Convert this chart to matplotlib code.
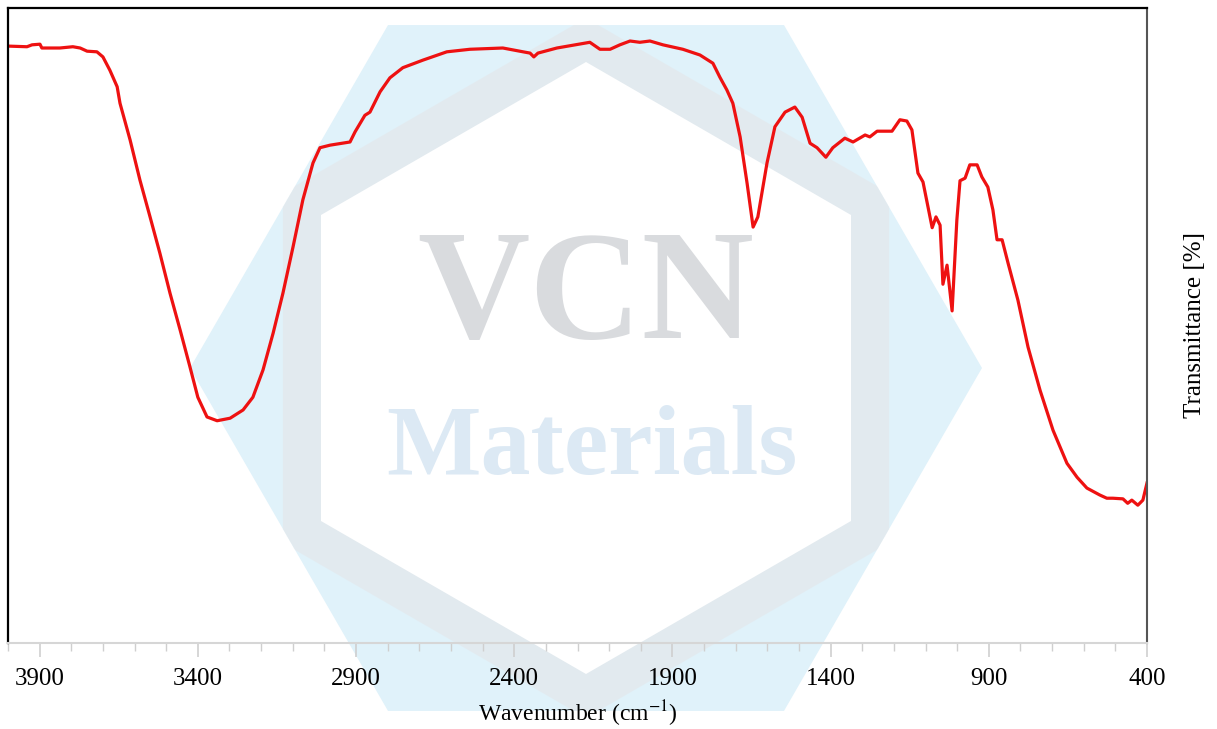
import numpy as np
import matplotlib
matplotlib.use('Agg')
import matplotlib.pyplot as plt
from matplotlib.patches import Polygon
from matplotlib.ticker import MultipleLocator, FixedLocator

plt.rcParams['font.family'] = ['Liberation Serif', 'DejaVu Serif']
plt.rcParams['mathtext.fontset'] = 'stix'

# FTIR spectrum
wavenumber = [4000, 3940, 3924, 3899, 3893, 3836, 3795, 3772, 3750, 3719,
              3700, 3678, 3655, 3646, 3614, 3583, 3551, 3520, 3488, 3456,
              3425, 3400, 3371, 3339, 3298, 3257, 3226, 3194, 3162, 3131,
              3099, 3068, 3036, 3014, 2982, 2919, 2903, 2872, 2856, 2824,
              2793, 2752, 2688, 2613, 2540, 2436, 2372, 2350, 2338, 2325,
              2265, 2161, 2129, 2097, 2066, 2034, 2003, 1971, 1930, 1867,
              1813, 1772, 1750, 1728, 1709, 1686, 1664, 1645, 1630, 1601,
              1576, 1544, 1513, 1490, 1465, 1443, 1415, 1393, 1355, 1329,
              1291, 1276, 1253, 1206, 1181, 1159, 1143, 1124, 1108, 1079,
              1067, 1054, 1045, 1032, 1016, 1001, 991, 975, 960, 937,
              922, 903, 887, 874, 858, 839, 808, 776, 738, 697,
              653, 621, 590, 549, 527, 508, 476, 461, 448, 429,
              413, 400]
transmittance = [94.0, 93.9, 94.2, 94.3, 93.7, 93.7, 93.9, 93.7, 93.2, 93.1,
                 92.3, 90.2, 87.6, 85.0, 79.2, 72.9, 67.1, 61.4, 55.1, 49.3,
                 43.5, 38.7, 35.6, 35.0, 35.4, 36.7, 38.7, 43.0, 48.8, 55.1,
                 62.4, 69.8, 75.6, 78.0, 78.4, 78.9, 80.5, 83.1, 83.6, 86.8,
                 89.0, 90.6, 91.8, 93.1, 93.5, 93.7, 93.1, 92.9, 92.3, 92.9,
                 93.7, 94.6, 93.5, 93.5, 94.2, 94.8, 94.6, 94.8, 94.2, 93.5,
                 92.6, 91.3, 89.1, 87.1, 85.0, 79.7, 72.4, 65.5, 67.1, 75.6,
                 81.3, 83.6, 84.4, 82.8, 78.7, 78.0, 76.5, 78.0, 79.5, 78.9,
                 80.0, 79.7, 80.6, 80.6, 82.4, 82.2, 80.8, 74.0, 72.6, 65.4,
                 67.1, 65.8, 56.5, 59.5, 52.3, 66.6, 72.8, 73.2, 75.3, 75.3,
                 73.4, 71.8, 68.2, 63.5, 63.5, 59.8, 54.0, 46.6, 39.8, 33.5,
                 28.3, 26.1, 24.4, 23.3, 22.8, 22.8, 22.7, 22.0, 22.5, 21.7,
                 22.5, 25.2]

major_ticks = [3900, 3400, 2900, 2400, 1900, 1400, 900, 400]

W, H = 1217, 729
fig = plt.figure(figsize=(W / 100, H / 100), dpi=100)

# watermark drawn in pixel coordinates on a background axes
bg = fig.add_axes([0, 0, 1, 1], zorder=0)
bg.set_xlim(0, W)
bg.set_ylim(H, 0)
bg.axis('off')

cx, cy = 586, 368
ang = np.deg2rad(np.arange(0, 360, 60))
outer = np.c_[cx + 396 * np.cos(ang), cy + 396 * np.sin(ang)]
mid = np.c_[cx + 350 * np.cos(ang + np.pi / 2), cy + 350 * np.sin(ang + np.pi / 2)]
inner = np.c_[cx + 306 * np.cos(ang + np.pi / 6), cy + 306 * np.sin(ang + np.pi / 6)]
hex_out = Polygon(outer, closed=True, fc='#e0f2fa', ec='none')
bg.add_patch(hex_out)
hex_mid = Polygon(mid, closed=True, fc='#e4e6e9', ec='none', alpha=0.6)
bg.add_patch(hex_mid)
hex_mid.set_clip_path(hex_out)
bg.add_patch(Polygon(inner, closed=True, fc='white', ec='none'))
bg.text(586, 300, 'VCN', fontsize=112, fontweight='bold', color='#d9dbde',
        ha='center', va='center', family='Liberation Serif')
bg.text(592, 450, 'Materials', fontsize=72, fontweight='bold', color='#dce9f4',
        ha='center', va='center', family='Liberation Serif')

ax = fig.add_axes([8 / W, 1 - 643 / H, 1139 / W, 635 / H], zorder=1)
ax.set_facecolor('none')
ax.plot(wavenumber, transmittance, color='#ee1111', linewidth=2.3,
        solid_joinstyle='round')

ax.set_xlim(4000, 400)
ax.set_ylim(0, 100)
ax.xaxis.set_major_locator(FixedLocator(major_ticks))
ax.xaxis.set_minor_locator(MultipleLocator(100))
ax.set_yticks([])
ax.tick_params(axis='x', which='major', length=10, width=1.2, color='#cfcfcf',
               labelsize=18, pad=8)
ax.tick_params(axis='x', which='minor', length=6, width=1.0, color='#cfcfcf')

ax.spines['left'].set_color('black')
ax.spines['left'].set_linewidth(1.6)
ax.spines['top'].set_color('black')
ax.spines['top'].set_linewidth(1.6)
ax.spines['right'].set_color('#555555')
ax.spines['right'].set_linewidth(1.5)
ax.spines['bottom'].set_color('#d6d6d6')
ax.spines['bottom'].set_linewidth(1.5)

ax.set_xlabel('Wavenumber (cm$^{-1}$)', fontsize=17)
ax.xaxis.set_label_coords(0.5, -0.087)
ax.text(1.042, 0.5, 'Transmittance [%]', rotation=90, fontsize=18,
        ha='center', va='center', transform=ax.transAxes)

fig.savefig('out.png', dpi=100)
